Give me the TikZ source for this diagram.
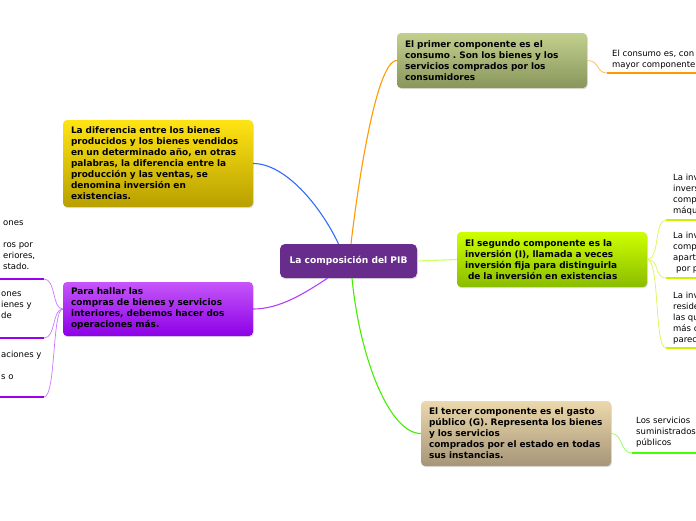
\documentclass[tikz,border=0pt]{standalone}
\usepackage{fontspec}
\setmainfont{DejaVu Sans}
\usetikzlibrary{shadows}
\definecolor{cpurple}{RGB}{104,45,140}
\definecolor{olivetop}{RGB}{194,208,142}
\definecolor{olivebot}{RGB}{136,150,92}
\definecolor{yeltop}{RGB}{255,228,20}
\definecolor{yelbot}{RGB}{184,160,0}
\definecolor{purtop}{RGB}{198,86,250}
\definecolor{purbot}{RGB}{140,0,230}
\definecolor{grntop}{RGB}{206,255,0}
\definecolor{grnbot}{RGB}{138,188,0}
\definecolor{tantop}{RGB}{236,216,172}
\definecolor{tanbot}{RGB}{166,150,120}
\definecolor{corange}{RGB}{255,153,0}
\definecolor{cblue}{RGB}{47,107,255}
\definecolor{cviolet}{RGB}{176,64,255}
\definecolor{cviolight}{RGB}{204,120,255}
\definecolor{cviodark}{RGB}{153,0,238}
\definecolor{clime}{RGB}{204,255,102}
\definecolor{climeline}{RGB}{206,240,0}
\definecolor{cgreen}{RGB}{68,238,0}
\definecolor{cgreenlight}{RGB}{136,255,85}
\definecolor{cgreenline}{RGB}{68,255,0}
\frenchspacing
\begin{document}
\begin{tikzpicture}[x=1pt,y=-1pt,
  box/.style={rounded corners=4pt, minimum width=190pt, text width=174pt,
    inner xsep=8pt, inner ysep=2pt, align=left,
    font=\fontsize{8.95}{11}\selectfont\bfseries,
    drop shadow={opacity=0.25,shadow xshift=0.8pt,shadow yshift=-1.2pt}},
  leaf/.style={anchor=north west, inner sep=0pt, align=left,
    font=\fontsize{8.5}{11}\selectfont},
  conn/.style={line width=1.1pt},
  thin/.style={line width=0.7pt},
  uline/.style={line width=2.6pt}]
\useasboundingbox (0,0) rectangle (696,520);
\clip (0,0) rectangle (696,520);

% central node
\node[fill=cpurple, text=white, rounded corners=5pt, minimum width=137pt,
  minimum height=34pt, font=\fontsize{9.1}{11}\selectfont\bfseries,
  drop shadow={opacity=0.25,shadow xshift=0.8pt,shadow yshift=-1.2pt}]
  (c) at (348.5,261) {La composición del PIB};

% main topic boxes
\node[box, top color=olivetop, bottom color=olivebot, minimum height=55pt]
  (top) at (492,60.5) {El primer componente es el\\consumo . Son los bienes y los\\servicios comprados por los\\consumidores};
\node[box, top color=yeltop, bottom color=yelbot, minimum height=87pt]
  (yel) at (158,163.5) {La diferencia entre los bienes\\producidos y los bienes vendidos\\en un determinado año, en otras\\palabras, la diferencia entre la\\producción y las ventas, se\\denomina inversión en\\existencias.};
\node[box, top color=purtop, bottom color=purbot, minimum height=54pt]
  (pl) at (158,309) {Para hallar las\\compras de bienes y servicios\\interiores, debemos hacer dos\\operaciones más.};
\node[box, top color=grntop, bottom color=grnbot, minimum height=55pt]
  (gm) at (552,259.5) {El segundo componente es la\\inversión (I), llamada a veces\\inversión fija para distinguirla\\\hspace*{3pt}de la inversión en existencias};
\node[box, top color=tantop, bottom color=tanbot, minimum height=65pt]
  (tan) at (516,433.5) {El tercer componente es el gasto\\público (G). Representa los bienes\\y los servicios\\comprados por el estado en todas\\sus instancias.};

% main connectors
\draw[conn, corange] ([xshift=2.5pt]c.north) .. controls (356,200) and (375,60.5) .. (top.west);
\draw[conn, cblue] ([xshift=-10pt]c.north) .. controls (320,205) and (285,163.5) .. (yel.east);
\draw[conn, cviolet] ([xshift=-21pt]c.south) .. controls (305,293) and (280,309) .. (pl.east);
\draw[conn, clime] (c.east) -- (gm.west);
\draw[conn, cgreen] ([xshift=3.5pt]c.south) .. controls (360,360) and (390,433.5) .. (tan.west);

% leaf texts
\node[leaf] (l1) at (612,49.5) {El consumo es, con\\mayor componente};
\node[leaf] (g1) at (673,173.5) {La inv\\invers\\comp\\máqu};
\node[leaf] (g2) at (673,231.5) {La inv\\comp\\apart\\\hspace*{3pt}por p};
\node[leaf] (g3) at (673,291.5) {La inv\\reside\\las qu\\más c\\parec};
\node[leaf] (t1) at (636,416.5) {Los servicios\\suministrados\\públicos};
\node[leaf] (p1) at (3,220.5) {ones\\[11pt]ros por\\eriores,\\stado.};
\node[leaf] (p2) at (1,291.5) {ones\\ienes y\\de};
\node[leaf] (p3) at (1,350.5) {aciones y\\[11pt]s o};

% leaf underline ends
\coordinate (u1a) at (607,73);   \coordinate (u1b) at (696,73);
\coordinate (ug1a) at (666,220); \coordinate (ug1b) at (696,220);
\coordinate (ug2a) at (666,278); \coordinate (ug2b) at (696,278);
\coordinate (ug3a) at (666,348); \coordinate (ug3b) at (696,348);
\coordinate (ut1a) at (632,453); \coordinate (ut1b) at (696,453);
\coordinate (up1a) at (44,279);  \coordinate (up1b) at (0,279);
\coordinate (up2a) at (44,338);  \coordinate (up2b) at (0,338);
\coordinate (up3a) at (44,397);  \coordinate (up3b) at (0,397);

% leaf connectors
\draw[thin, corange!70] (top.east) .. controls (600,60.5) and (596,73) .. (u1a);
\draw[uline, corange] (u1a) -- (u1b);

\draw[thin, climeline!70] (gm.east) .. controls (660,259.5) and (654,220) .. (ug1a);
\draw[thin, climeline!70] (gm.east) .. controls (660,259.5) and (654,278) .. (ug2a);
\draw[thin, climeline!70] (gm.east) .. controls (660,259.5) and (654,348) .. (ug3a);
\draw[uline, climeline] (ug1a) -- (ug1b);
\draw[uline, climeline] (ug2a) -- (ug2b);
\draw[uline, climeline] (ug3a) -- (ug3b);

\draw[thin, cgreenlight] (tan.east) .. controls (623,433.5) and (620,453) .. (ut1a);
\draw[uline, cgreenline] (ut1a) -- (ut1b);

\draw[thin, cviolight] (pl.west) .. controls (52,309) and (56,279) .. (up1a);
\draw[thin, cviolight] (pl.west) .. controls (52,309) and (56,338) .. (up2a);
\draw[thin, cviolight] (pl.west) .. controls (52,309) and (56,397) .. (up3a);
\draw[uline, cviodark] (up1a) -- (up1b);
\draw[uline, cviodark] (up2a) -- (up2b);
\draw[uline, cviodark] (up3a) -- (up3b);
\end{tikzpicture}
\end{document}
